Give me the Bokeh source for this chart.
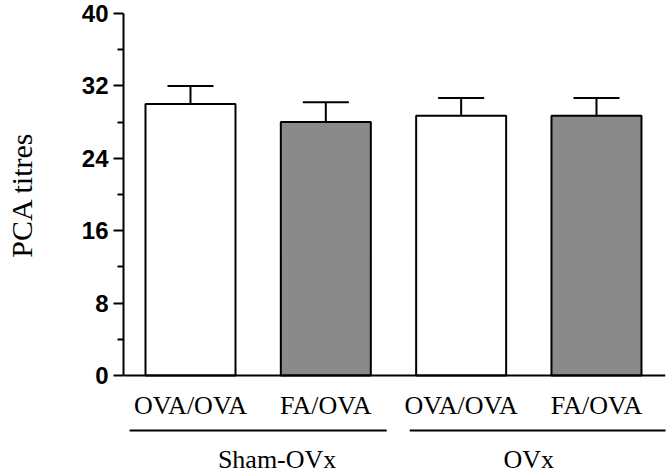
from bokeh.plotting import figure
from bokeh.models import Range1d, FixedTicker, Span, ColumnDataSource
from bokeh.core.properties import value
from bokeh.embed import file_html
from bokeh.resources import INLINE

# ---- data ----
categories = ["OVA/OVA", "FA/OVA", "OVA/OVA", "FA/OVA"]
positions = [1, 2, 3, 4]
means = [30.0, 28.0, 28.7, 28.7]
sem = [2.0, 2.2, 1.95, 1.95]
bar_colors = ["white", "#8a8a8a", "white", "#8a8a8a"]
groups = ["Sham-OVx", "OVx"]
group_label_x = [1.64, 3.5]
group_line_start = [0.55, 2.62]
group_line_end = [2.45, 4.52]
y_ticks = [0, 8, 16, 24, 32, 40]
y_minor_ticks = [4, 12, 20, 28, 36]
y_title = "PCA titres"

upper = [m + s for m, s in zip(means, sem)]

# ---- styles ----
bar_width = 0.665
cap_half = 0.17
cat_label_y = -3.31
group_line_y = -6.08
group_label_y = -9.23
serif = "Liberation Serif"
sans = "Liberation Sans"
# non-collapsing leading space lifts the axis title to the middle of the 0-40 span
title_pad = "\u2003\u2003\u2003\u00a0"

p = figure(width=670, height=473, output_backend="svg", toolbar_location=None,
           x_range=Range1d(0.505, 4.51), y_range=Range1d(-10.83, 40),
           x_axis_location=None, min_border_left=123, min_border_right=5,
           min_border_top=13, min_border_bottom=0)
p.outline_line_color = None
p.grid.grid_line_color = None
p.background_fill_color = "white"

bars = ColumnDataSource(dict(x=positions, top=means, upper=upper, color=bar_colors,
                             cl=[x - cap_half for x in positions],
                             cr=[x + cap_half for x in positions]))

p.segment(x0="x", y0="top", x1="x", y1="upper", source=bars, line_color="black", line_width=2)
p.segment(x0="cl", y0="upper", x1="cr", y1="upper", source=bars, line_color="black", line_width=2)
p.vbar(x="x", top="top", bottom=0, width=bar_width, source=bars, fill_color="color",
       line_color="black", line_width=2)

p.add_layout(Span(location=0, dimension="width", line_color="black", line_width=2))

# y axis
ax = p.yaxis[0]
ax.ticker = FixedTicker(ticks=y_ticks, minor_ticks=y_minor_ticks)
ax.bounds = (0, 40)
ax.axis_line_width = 2
ax.axis_line_color = "black"
ax.major_tick_out = 10
ax.major_tick_in = 0
ax.minor_tick_out = 6
ax.minor_tick_in = 0
ax.major_tick_line_width = 2
ax.minor_tick_line_width = 2
ax.major_label_standoff = 5
ax.major_label_text_font = sans
ax.major_label_text_font_style = "bold"
ax.major_label_text_font_size = "24px"
ax.major_label_text_color = "black"
ax.axis_label = title_pad + y_title
ax.axis_label_text_font = serif
ax.axis_label_text_font_style = "normal"
ax.axis_label_text_font_size = "30px"
ax.axis_label_text_color = "black"
ax.axis_label_standoff = 41

# category labels
p.text(x=positions, y=[cat_label_y] * len(positions), text=categories,
       text_font=value(serif), text_font_size="26px", text_align="center",
       text_baseline="middle", text_color="black")

# group lines and labels
p.segment(x0=group_line_start, y0=[group_line_y] * 2, x1=group_line_end, y1=[group_line_y] * 2,
          line_color="black", line_width=2)
p.text(x=group_label_x, y=[group_label_y] * 2, text=groups,
       text_font=value(serif), text_font_size="26px", text_align="center",
       text_baseline="middle", text_color="black")

open("out.html", "w").write(file_html(p, INLINE))
